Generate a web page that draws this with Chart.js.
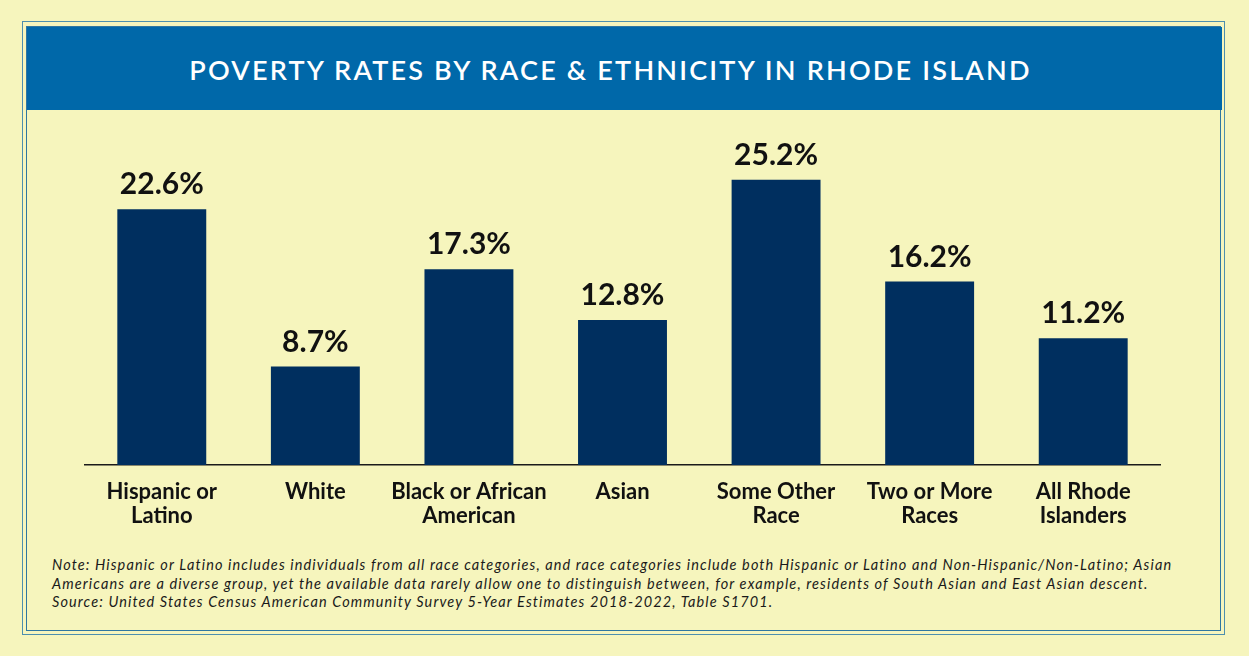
<!DOCTYPE html>
<html>
<head>
<meta charset="utf-8">
<script src="https://cdn.jsdelivr.net/npm/chart.js@4.4.1/dist/chart.umd.min.js"></script>
<style>
  html, body { margin: 0; padding: 0; }
  body {
    width: 1249px;
    height: 656px;
    background: #f6f5bd;
    position: relative;
    overflow: hidden;
    font-family: Lato, "Open Sans", sans-serif;
  }
  .frame-outer {
    position: absolute;
    left: 22px; top: 21px;
    width: 1201px; height: 612px;
    border: 1.5px solid #4d8fae;
  }
  .frame-inner {
    position: absolute;
    left: 26px; top: 26px;
    width: 1193px; height: 603px;
    border: 1.5px solid #2f76a0;
  }
  .title-bar {
    position: absolute;
    left: 27px; top: 27px;
    width: 1167px; height: 83px;
    padding-right: 28px;
    background: #0068a9;
    color: #fff;
    font-size: 27px;
    font-weight: 600;
    letter-spacing: 2.2px;
    text-align: center;
    line-height: 86px;
  }
  .chart-box {
    position: absolute;
    left: 27px; top: 110px;
    width: 1194px; height: 440px;
  }
  .note {
    position: absolute;
    left: 52px; top: 556px;
    width: 1180px;
    font-size: 14.5px;
    font-style: italic;
    letter-spacing: 1.1px;
    line-height: 18.5px;
    color: #1a1a1a;
    white-space: nowrap;
  }
</style>
</head>
<body>
<div class="frame-outer"></div>
<div class="frame-inner"></div>
<div class="title-bar">POVERTY RATES BY RACE &amp; ETHNICITY IN RHODE ISLAND</div>
<div class="chart-box"><canvas id="povertyChart"></canvas></div>
<div class="note">Note: Hispanic or Latino includes individuals from all race categories, and race categories include both Hispanic or Latino and Non-Hispanic/Non-Latino; Asian<br>Americans are a diverse group, yet the available data rarely allow one to distinguish between, for example, residents of South Asian and East Asian descent.<br>Source: United States Census American Community Survey 5-Year Estimates 2018-2022, Table S1701.</div>

<script>
const categories = [
  ['Hispanic or', 'Latino'],
  'White',
  ['Black or African', 'American'],
  'Asian',
  ['Some Other', 'Race'],
  ['Two or More', 'Races'],
  ['All Rhode', 'Islanders']
];
const povertyRates = [22.6, 8.7, 17.3, 12.8, 25.2, 16.2, 11.2];

// percentage text above every bar
const valueLabels = {
  id: 'valueLabels',
  afterDatasetsDraw(chart) {
    const ctx = chart.ctx;
    const meta = chart.getDatasetMeta(0);
    ctx.save();
    ctx.font = 'bold 30px Lato, "Open Sans", sans-serif';
    ctx.fillStyle = '#111111';
    ctx.textAlign = 'center';
    ctx.textBaseline = 'alphabetic';
    meta.data.forEach((bar, i) => {
      ctx.fillText(povertyRates[i].toFixed(1) + '%', bar.x, bar.y - 15);
    });
    ctx.restore();
  }
};

new Chart(document.getElementById('povertyChart'), {
  type: 'bar',
  data: {
    labels: categories,
    datasets: [{
      data: povertyRates,
      backgroundColor: '#002f5f',
      borderWidth: 0,
      barPercentage: 0.579,
      categoryPercentage: 1.0
    }]
  },
  options: {
    responsive: true,
    maintainAspectRatio: false,
    animation: false,
    layout: {
      padding: { left: 58, right: 61, top: 38, bottom: 15 }
    },
    plugins: {
      legend: { display: false },
      tooltip: { enabled: false }
    },
    scales: {
      x: {
        grid: { display: false, drawTicks: false },
        border: { display: true, color: '#1a1a1a', width: 1.5 },
        ticks: {
          color: '#111111',
          padding: 15,
          maxRotation: 0,
          autoSkip: false,
          font: { family: 'Lato, "Open Sans", sans-serif', size: 22, weight: 'bold', lineHeight: 1.1 }
        },
        afterFit: (axis) => { axis.height = 70; }
      },
      y: {
        display: false,
        min: 0,
        max: 28
      }
    }
  },
  plugins: [valueLabels]
});
</script>
</body>
</html>
